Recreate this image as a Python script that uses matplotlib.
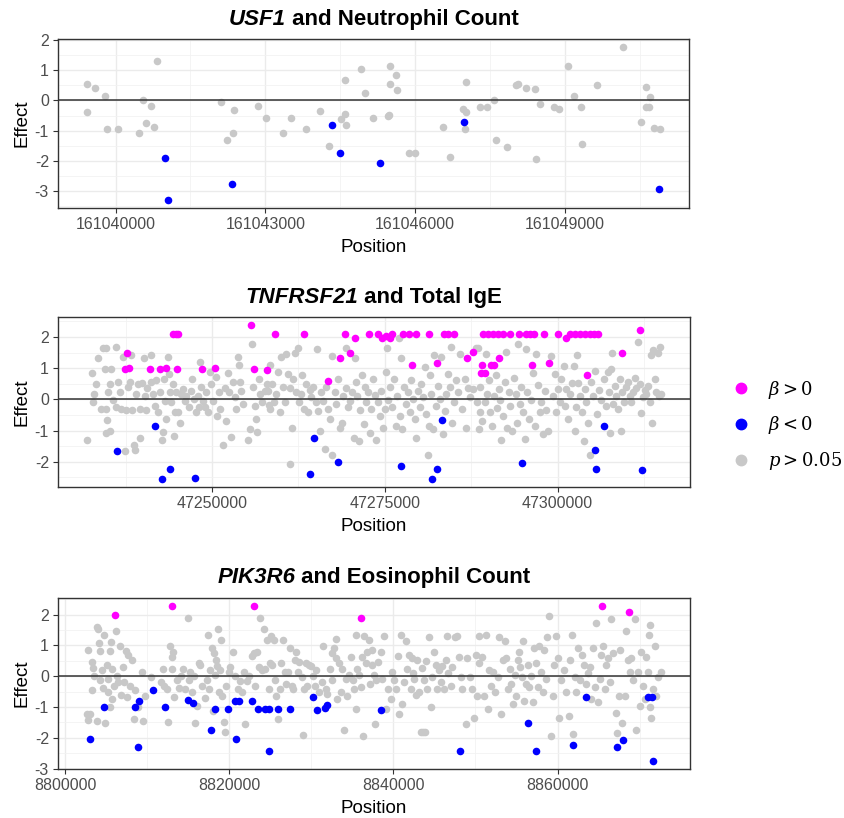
import matplotlib
matplotlib.use("Agg")
import matplotlib.pyplot as plt
from matplotlib.lines import Line2D
from matplotlib.ticker import FixedLocator, FuncFormatter

plt.rcParams['font.family'] = ['Liberation Sans', 'DejaVu Sans']
plt.rcParams['axes.unicode_minus'] = False
plt.rcParams['mathtext.fontset'] = 'dejavuserif'

GRAY = '#C8C8C8'
BLUE = '#0000FF'
MAGENTA = '#FF00FF'

# ---------------- USF1 / Neutrophil count ----------------
usf1_ns_pos = [161039420, 161039420, 161039580, 161039785, 161039830, 161040045, 161040475, 161040555,
               161040610, 161040705, 161040760, 161040830, 161042120, 161042225, 161042350, 161042380,
               161042860, 161043020, 161043350, 161043515, 161043820, 161044095, 161044285, 161044525,
               161044590, 161044590, 161044625, 161044925, 161045000, 161045160, 161045460, 161045475,
               161045490, 161045490, 161045615, 161045640, 161045875, 161045990, 161046570, 161046695,
               161046970, 161047015, 161047000, 161047030, 161047300, 161047435, 161047590, 161047615,
               161047850, 161048030, 161048065, 161048225, 161048395, 161048420, 161048495, 161048780,
               161048885, 161049065, 161049190, 161049335, 161049345, 161049655, 161050175, 161050520,
               161050620, 161050620, 161050680, 161050715, 161050780, 161050915]
usf1_ns_eff = [0.54, -0.40, 0.41, 0.16, -0.96, -0.96, -1.09, 0.02,
               -0.74, -0.19, -0.88, 1.31, -0.06, -1.31, -1.09, -0.31,
               -0.19, -0.58, -1.09, -0.58, -0.96, -0.35, -1.51, -0.60,
               -0.44, 0.67, -0.80, 1.04, 0.24, -0.58, -0.51, -0.48,
               1.13, 0.53, 0.83, 0.33, -1.73, -1.73, -0.88, -1.86,
               -0.28, -0.37, -0.96, 0.62, -0.23, -0.23, 0.00, -1.31,
               -1.56, 0.51, 0.55, 0.42, 0.37, -1.95, -0.11, -0.23,
               -0.28, 1.14, 0.16, -0.23, -1.43, 0.50, 1.78, -0.70,
               0.44, -0.23, -0.23, 0.12, -0.90, -0.95]
usf1_neg_pos = [161040990, 161041045, 161042325, 161044330, 161044490, 161045300, 161046980, 161050890]
usf1_neg_eff = [-1.91, -3.31, -2.76, -0.80, -1.74, -2.07, -0.71, -2.94]

# ---------------- TNFRSF21 / Total IgE ----------------
tnf_pos_pos = [47237740, 47237350, 47237980, 47240970, 47242460, 47243380, 47244340, 47244725, 47245110,
               47244920, 47248530, 47250410, 47255570, 47256000, 47257980, 47259160, 47263260, 47266770,
               47268560, 47269180, 47269910, 47270630, 47272700, 47274000, 47274630, 47275210, 47275690,
               47276080, 47277620, 47278490, 47279550, 47278970, 47281380, 47282540, 47283600, 47284130,
               47284990, 47286920, 47287740, 47289060, 47288970, 47289450, 47290410, 47290750, 47291520,
               47289210, 47289930, 47290650, 47291380, 47292100, 47293060, 47294410, 47295470, 47295960,
               47296530, 47296340, 47298030, 47298750, 47300050, 47301260, 47301740, 47302460, 47303190,
               47303910, 47304630, 47305210, 47305840, 47304300, 47309310, 47311860]
tnf_pos_eff = [1.47, 0.98, 1.00, 0.96, 0.96, 1.00, 2.09, 2.09, 2.09,
               0.96, 0.96, 1.00, 2.39, 0.96, 0.93, 2.09, 2.09, 0.58,
               1.31, 2.09, 1.47, 1.98, 2.09, 2.09, 1.98, 2.04, 1.96,
               2.09, 2.09, 2.09, 2.09, 1.09, 2.09, 1.15, 2.09, 2.09,
               2.09, 1.31, 1.52, 1.11, 0.84, 0.84, 1.11, 1.11, 1.31,
               2.09, 2.09, 2.09, 2.09, 2.09, 2.09, 2.09, 2.09, 2.09,
               2.09, 1.09, 2.09, 1.15, 2.09, 1.96, 2.09, 2.09, 2.09,
               2.09, 2.09, 2.09, 2.09, 0.77, 1.47, 2.23]
tnf_neg_pos = [47236290, 47241690, 47243910, 47242800, 47247470, 47264750, 47264120, 47268220, 47277330,
               47281810, 47282580, 47283310, 47294850, 47305350, 47305600, 47306660, 47312250]
tnf_neg_eff = [-1.64, -0.86, -2.24, -2.56, -2.52, -1.23, -2.40, -2.02, -2.15,
               -2.55, -2.24, -0.66, -2.03, -1.61, -2.24, -0.86, -2.27]
tnf_ns_pos = [
    47231860, 47232580, 47232770, 47232870, 47233160, 47233540, 47233880, 47234220, 47234700, 47234460,
    47234700, 47234800, 47234940, 47234600, 47235180, 47235420, 47235280, 47235660, 47236150, 47236050,
    47236390, 47236630, 47236870, 47237110, 47237450, 47237500, 47237840, 47238170, 47238270, 47238460,
    47238650, 47238800, 47239040, 47239280, 47239520, 47239620, 47239900, 47240100, 47240240, 47240480,
    47240630, 47241110, 47241210, 47241450, 47241690, 47241930, 47242170, 47242410, 47242800, 47242890,
    47242990, 47243140, 47243380, 47243620, 47243760, 47243950, 47244100, 47244340, 47244440, 47244580,
    47244820, 47245060, 47245300, 47245540, 47245780, 47246020, 47246260, 47246650, 47246990, 47247140,
    47247330, 47247620, 47247910, 47248100, 47248290, 47248440, 47248680, 47248920, 47249160, 47249400,
    47249640, 47249880, 47250120, 47250510, 47250700, 47250990, 47251180, 47251570, 47251810, 47252050,
    47252290, 47252440, 47252780, 47253020, 47253260, 47253500, 47253740, 47253880, 47253980, 47254220,
    47254460, 47255190, 47255530, 47255810, 47255910, 47256150, 47256390, 47256540, 47256730, 47256970,
    47257260, 47257600, 47257930, 47258220, 47258420,
    47258100, 47258340, 47258720, 47258920, 47259300, 47259540, 47259790, 47260030, 47260270, 47260510,
    47260750, 47260990, 47261230, 47261330, 47261520, 47261710, 47261950, 47262200, 47262440, 47262580,
    47262820, 47263060, 47263250, 47263550, 47263880, 47264120, 47264360, 47264600, 47264990, 47265230,
    47265330, 47265570, 47265810, 47266050, 47266340, 47266530, 47266820, 47267110, 47267400, 47267300,
    47267740, 47267980, 47268220, 47268460, 47268750, 47268940, 47269330, 47269420, 47269660, 47270000,
    47270290, 47270480, 47270630, 47270770, 47270970, 47271260, 47271450, 47271740, 47271930, 47272070,
    47272320, 47272560, 47272800, 47273040, 47273280, 47273520, 47273760, 47274000, 47274240, 47274480,
    47274720, 47274970, 47275210, 47275310, 47275450, 47275690, 47276080, 47276270, 47276560, 47276750,
    47276990, 47277140, 47277380, 47277520, 47277720, 47278010, 47278340, 47278580, 47278820, 47279060,
    47279300, 47279550, 47279790, 47280030, 47280270, 47280510, 47280750, 47280990, 47281230, 47281380,
    47281570, 47281710, 47281960, 47282050, 47282340, 47282680, 47282920, 47283160, 47283400, 47283640,
    47283880, 47284130, 47284370, 47284610, 47284750, 47284950, 47285240, 47285570, 47285910, 47286200,
    47286540, 47286780, 47287020, 47287360, 47287740, 47288130, 47288320, 47288610,
    47288480, 47288730, 47288820, 47289110, 47289450, 47289690, 47289790, 47290080, 47290270, 47290560,
    47290750, 47291040, 47291230, 47291520, 47291710, 47291860, 47292100, 47292340, 47292580, 47292680,
    47292970, 47293160, 47293450, 47293640, 47293930, 47294120, 47294270, 47294510, 47294750, 47294990,
    47295230, 47295380, 47295570, 47295860, 47296200, 47296440, 47296680, 47296920, 47297160, 47297400,
    47297640, 47297880, 47298120, 47298370, 47298610, 47299090, 47299330, 47299620, 47299810, 47300050,
    47300290, 47300530, 47300870, 47301020, 47301260, 47301550, 47301840, 47302130, 47302320, 47302460,
    47302700, 47302800, 47302950, 47303190, 47303570, 47303760, 47303910, 47304150, 47304390, 47304630,
    47304870, 47305110, 47305350, 47305690, 47305980, 47306320, 47306660, 47306960, 47307280, 47307430,
    47307620, 47307760, 47307910, 47308010, 47308250, 47308490, 47308730, 47308970, 47309210, 47309360,
    47309550, 47309840, 47310170, 47310410, 47310660, 47310900, 47311140, 47311380, 47311620, 47311860,
    47312100, 47312340, 47312580, 47312820, 47313060, 47313310, 47313550, 47313690, 47313790, 47314030,
    47314270, 47314510, 47314660, 47314850, 47315000]
tnf_ns_eff = [
    -1.31, 0.84, -0.10, 0.17, 0.50, 1.31, -0.31, 1.63, 1.65, 0.98,
    -0.32, -0.66, 0.23, -1.09, -1.02, 0.98, 0.50, -0.01, 1.69, -0.23,
    0.57, 0.23, -0.31, 1.36, -1.64, -0.34, 0.39, 0.55, 1.42, -0.34,
    -1.45, -1.63, 0.17, 0.50, -0.31, -1.23, 0.53, 1.33, 0.12, -0.34,
    0.36, 1.42, 0.57, 0.16, -0.21, 0.61, -0.42, 0.25, -1.29, -1.05,
    0.66, -0.04, -0.64, 1.36, 0.82, 0.23, -0.10, 0.50, -1.16, -0.40,
    0.23, -0.42, -0.75, 0.17, 0.34, -0.04, 0.12, -0.23, 0.28, 0.66,
    0.01, -0.42, 0.12, -0.26, 1.20, 0.39, -0.04, -0.26, 0.23, -0.42,
    0.88, 0.50, -0.04, 0.71, -0.53, 0.23, -0.31, -1.45, 0.36, -0.69,
    0.85, 0.25, -1.20, 0.55, 0.06, -0.31, 1.36, 1.09, 0.55, 0.28,
    -0.15, -1.31, -0.96, 1.76, 0.39, -0.21, -0.64, -1.05, 0.66, 0.17,
    -0.08, 0.28, 0.50, -0.18, 1.09,
    0.28, -0.31, 0.50, -0.08, 0.17, 0.88, -0.40, 1.36, 0.39, -0.10,
    1.44, 0.82, -2.06, 0.36, -0.91, 0.66, 1.47, 0.23, 1.63, -0.10,
    0.17, 0.79, -0.31, 0.50, -0.42, 0.31, 0.06, 0.39, -0.10, 1.61,
    -0.37, -1.02, 0.23, -0.04, -1.59, 0.39, -0.31, -0.62, -1.77, 1.39,
    0.23, -0.15, 0.66, -0.91, -0.75, 0.12, 1.65, 0.36, -0.26, -0.04,
    0.23, -1.23, 1.31, 0.57, 0.12, -1.34, -0.34, 0.77, -0.80, 0.39,
    -0.10, 0.23, -1.07, -0.31, 0.66, 0.14, -1.29, -0.08, -0.53, 0.28,
    -0.91, -0.31, 0.88, 1.65, -0.01, 0.39, -0.26, 0.66, -0.85, 0.12,
    1.96, -0.53, 1.31, -0.96, 0.39, -0.15, 0.23, -0.42, 0.61, 0.01,
    -0.64, -1.23, 0.28, -0.26, 0.50, 0.06, 1.04, -0.48, -1.77, -0.85,
    0.77, 0.17, -0.96, 1.42, -0.21, 0.44, 0.01, 1.36, -1.12, -0.37,
    0.17, 0.82, 0.39, 1.69, -0.75, -0.10, 0.61, 0.23, 1.44, -0.31,
    0.66, -0.91, 0.36, 0.06, 0.34, 1.63, -0.10, -0.96,
    1.65, 0.39, -0.42, -0.69, -0.10, 1.44, 0.17, 0.61, -0.42, -0.85,
    0.12, 0.79, -0.29, 0.34, -0.01, -1.31, -0.53, 0.55, 1.52, -0.91,
    0.23, -0.21, -1.02, 0.68, 0.17, -0.77, 1.76, -0.15, 0.39, -0.42,
    -1.26, 1.61, 0.23, -0.64, -0.01, 0.85, -0.85, 1.44, 0.46, -0.42,
    -0.10, -1.12, 0.28, -0.34, -1.02, 1.39, 0.12, 0.82, -0.42, 0.34,
    -0.08, 0.66, 1.07, -0.21, 0.34, -0.62, 0.17, 0.53, 1.07, -1.02,
    -0.23, 1.42, 0.53, 0.12, -0.42, -1.34, 0.34, -0.08, -0.75, -1.77,
    0.55, 0.12, 0.90, -0.48, 0.31, -0.01, 0.66, -0.21, 0.88, 0.25,
    -1.07, 0.98, 1.47, -0.15, 0.42, 0.12, -0.31, 0.66, -1.02, 0.23,
    -0.08, 0.39, 0.55, 0.12, -0.10, 0.23, 0.68, 0.36, 1.85, 0.50,
    -0.44, 0.06, 0.31, 0.17, 0.42, -0.10, 1.42, -0.77, 1.58, 0.66,
    0.23, 1.47, 0.12, 1.69, 0.17]

# ---------------- PIK3R6 / Eosinophil count ----------------
pik_pos_pos = [8806060, 8813090, 8822970, 8836010, 8865450, 8868740]
pik_pos_eff = [1.99, 2.29, 2.29, 1.90, 2.29, 2.08]
pik_neg_pos = [8803090, 8804800, 8808900, 8808540, 8809060, 8810770, 8812190, 8815000, 8815610, 8817800,
               8818290, 8819800, 8820770, 8820730, 8821140, 8822760, 8823450, 8824310, 8824800, 8824800,
               8825970, 8827360, 8830200, 8830650, 8831660, 8831950, 8838450, 8848090, 8856380, 8857320,
               8861870, 8863450, 8867190, 8867960, 8871060, 8871500, 8871580]
pik_neg_eff = [-2.03, -1.01, -2.30, -1.01, -0.80, -0.46, -1.01, -0.76, -0.88, -1.73,
               -1.05, -1.05, -2.03, -0.80, -0.80, -0.80, -1.05, -1.05, -1.05, -2.42,
               -1.05, -1.05, -0.68, -1.10, -1.04, -0.92, -1.10, -2.42, -1.53, -2.42,
               -2.24, -0.68, -2.29, -2.08, -0.68, -0.68, -2.76]
pik_ns_pos = [
    8802640, 8802760, 8803010, 8802760, 8803250, 8803450, 8803330, 8803580, 8803860, 8804070,
    8804150, 8803860, 8804270, 8804270, 8804470, 8804670, 8804800, 8804880, 8805080, 8805200,
    8805280, 8805490, 8805490, 8805610, 8805690, 8805770, 8806020, 8806220, 8806300, 8806500,
    8806710, 8806830, 8807030, 8807230, 8807400, 8807520, 8807720, 8807930, 8808130, 8808370,
    8808540, 8808860, 8809430, 8809550, 8809760, 8810490, 8811710, 8811990, 8812110, 8812400,
    8812600, 8812800, 8813010, 8813090, 8813210, 8813330, 8813620, 8813900, 8814150, 8814430,
    8814640, 8814960, 8815040, 8815240, 8815450, 8815650, 8815850, 8816060, 8816260, 8816460,
    8816670, 8816990, 8817280, 8817400, 8817560, 8817680, 8817890, 8817970, 8818090, 8818210,
    8818370, 8818500, 8818620, 8818700, 8818900, 8819020, 8819100, 8819310, 8819430, 8819590,
    8819920, 8820120, 8820410, 8820730, 8821060, 8821340, 8821540, 8821750, 8821950, 8822150,
    8822360, 8822760, 8822970, 8823170, 8823370, 8823580, 8823780, 8823980, 8824190, 8824390,
    8824590, 8824800, 8825000,
    8825040, 8825240, 8825450, 8825570, 8825650, 8825970, 8826140, 8826340, 8826540, 8826790,
    8826950, 8827190, 8827360, 8827600, 8827760, 8828010, 8828170, 8828410, 8828500, 8828820,
    8828980, 8829110, 8829310, 8829510, 8829720, 8829920, 8830200, 8830450, 8830610, 8830930,
    8831260, 8831420, 8831750, 8831950, 8832230, 8832480, 8832560, 8832760, 8832970, 8833050,
    8833170, 8833370, 8833580, 8833780, 8833980, 8834190, 8834390, 8834590, 8834840, 8835080,
    8835200, 8835410, 8835490, 8835610, 8835810, 8836010, 8836220, 8836300, 8836460, 8836620,
    8836830, 8837030, 8837110, 8837360, 8837440, 8837640, 8837760, 8837930, 8838170, 8838450,
    8838660, 8838860, 8839140, 8839390, 8839670, 8839800, 8840080, 8840280, 8840610, 8840690,
    8840890, 8841100, 8841300, 8841500, 8841710, 8841910, 8842110, 8842240, 8842400, 8842520,
    8842720, 8842930, 8843130, 8843330, 8843620, 8843860, 8843530, 8843740, 8843940, 8844140,
    8844350, 8844550, 8844760, 8844960, 8845160, 8845360, 8845570, 8845770, 8845970, 8846180,
    8846380, 8846580, 8846710, 8847000, 8847200, 8847520, 8847800, 8848010, 8848210, 8848410,
    8848820, 8849020, 8849310, 8849550, 8849840, 8850040, 8850240, 8850450,
    8850490, 8850810, 8851100, 8851300, 8851500, 8851710, 8851910, 8852190, 8852440, 8852720,
    8852930, 8853130, 8853330, 8853540, 8853740, 8853940, 8854150, 8854350, 8854550, 8854760,
    8854960, 8855160, 8855280, 8855440, 8855690, 8855770, 8855970, 8856180, 8856380, 8856580,
    8856790, 8856990, 8857190, 8857400, 8857600, 8857800, 8858010, 8858210, 8858410, 8858620,
    8858740, 8859020, 8859230, 8859430, 8859630, 8859830, 8860040, 8860240, 8860450, 8860730,
    8861060, 8861380, 8861540, 8861790, 8861870, 8862070, 8862280, 8862480, 8862680, 8863010,
    8863170, 8863410, 8863700, 8863900, 8864100, 8864310, 8864510, 8864710, 8864920, 8865120,
    8865330, 8865530, 8865730, 8865930, 8866140, 8866340, 8866540, 8866750, 8867070, 8867230,
    8867480, 8867640, 8867880, 8868170, 8868290, 8868580, 8868780, 8868980, 8869190, 8869390,
    8869510, 8869800, 8870000, 8870200, 8870410, 8870610, 8870810, 8871020, 8871140, 8871220,
    8871300, 8871420, 8871620, 8871830, 8872030, 8872230, 8872640]
pik_ns_eff = [
    -1.23, -1.42, -1.23, 0.86, 0.47, 0.27, -0.46, 0.01, 1.59, 1.52,
    1.08, -1.45, 0.82, -0.13, 0.20, -0.38, 1.33, -1.51, 0.36, -0.52,
    -0.08, 0.82, -1.01, 1.11, 0.25, -0.74, -0.30, 1.48, 0.01, -0.19,
    0.97, -0.60, 0.31, -0.19, 0.82, -0.68, 0.69, -0.32, 0.53, -1.40,
    -0.46, -1.01, 0.14, -1.45, -0.63, -0.02, -0.19, 0.25, -0.30, -0.41,
    -1.48, 0.97, 0.64, 0.25, 0.80, -0.68, -0.13, -0.38, 0.01, 0.25,
    -0.41, 1.90, -0.13, 0.14, -0.52, 0.01, -1.51, -0.96, 0.42, 0.36,
    -0.30, -0.71, -0.13, 1.35, -0.41, 0.20, 0.93, -1.12, 0.75, 0.03,
    0.53, 0.34, 1.52, -0.52, 0.20, 1.19, -0.65, -1.48, -1.81, -0.30,
    0.14, 0.31, 0.78, 0.01, -0.41, -0.16, -0.52, 0.14, -1.56, -0.16,
    0.01, 0.67, 0.75, -0.30, 0.80, 0.31, 1.88, 0.20, 1.52, 0.25,
    1.19, -0.41, 0.42,
    1.30, 0.36, 1.19, -0.13, -0.63, -1.40, -0.41, 0.42, 1.19, 0.14,
    -0.24, 0.14, 0.91, -0.30, -0.41, 0.53, 0.80, 0.14, 0.47, -0.02,
    -1.91, -0.41, 0.42, -0.30, 0.36, 0.34, 0.01, -0.30, 0.20, -0.52,
    -0.19, 0.97, -0.41, -0.57, 0.25, -0.13, 0.75, 0.91, 1.22, 0.58,
    -0.74, 0.42, -0.52, 0.23, -1.73, -0.08, -0.63, 0.03, 0.64, -0.13,
    -0.41, 1.35, -1.07, 0.25, 0.03, -0.35, 0.64, -1.95, 1.30, 0.42,
    0.80, 1.19, -0.24, 0.86, 0.38, 0.03, -1.56, -0.13, 0.45, 0.80,
    -0.08, 1.30, -1.07, -0.41, -0.74, 0.14, -0.13, -0.41, 0.67, -1.23,
    1.35, -0.90, -0.19, 1.13, 0.25, 0.69, -0.41, 0.58, 0.09, -0.08,
    -0.60, 0.53, -0.52, -1.81, -1.81, -1.81, 0.27, -0.13, 0.49, -0.41,
    1.26, -1.01, -0.02, 0.80, 0.36, -0.41, 0.20, -0.19, 0.34, -0.41,
    0.53, 1.30, 0.09, -0.30, 0.31, 1.26, 1.30, 0.64, -0.02, -0.41,
    -1.56, 0.58, -0.02, -0.41, -1.34, 0.69, -0.63, 0.42,
    1.30, 0.64, -0.63, 1.35, -1.07, 0.20, -0.30, 0.14, -0.52, -0.02,
    1.26, -1.23, 0.53, 1.13, 0.58, -0.41, 0.25, -0.24, -0.90, 0.03,
    -0.63, 0.53, 0.80, 0.31, -0.02, 1.13, -0.79, -0.24, 0.36, -0.35,
    0.01, -0.85, 0.91, 0.42, -0.35, 0.97, 0.14, -0.52, 0.86, -0.08,
    1.26, 1.96, -1.95, -0.63, 0.36, 1.30, 0.58, -1.34, -0.13, 0.20,
    -0.52, -1.29, 0.53, 1.35, -1.89, -0.02, -0.52, 0.91, -0.13, 0.69,
    0.36, -0.24, 0.09, 0.31, -0.74, 0.93, -0.35, 1.74, -0.85, -0.08,
    0.69, 0.97, -0.41, 0.36, 0.58, -0.19, 1.87, 0.75, -1.20, -1.84,
    -0.63, 0.86, -1.51, -0.63, 1.48, 0.53, 0.14, 0.58, -0.13, 1.87,
    -1.73, 0.14, -0.96, 0.80, -0.30, -0.74, 0.64, 0.14, 1.35, 1.66,
    -1.01, -1.34, -0.41, 0.97, -0.63, -0.02, 0.14]

panels = [
    dict(title=('USF1', 'and Neutrophil Count'), ns=(usf1_ns_pos, usf1_ns_eff),
         neg=(usf1_neg_pos, usf1_neg_eff), pos=([], []),
         xticks=[161040000, 161043000, 161046000, 161049000], xstep=3000, yticks=[-3, -2, -1, 0, 1, 2]),
    dict(title=('TNFRSF21', 'and Total IgE'), ns=(tnf_ns_pos, tnf_ns_eff),
         neg=(tnf_neg_pos, tnf_neg_eff), pos=(tnf_pos_pos, tnf_pos_eff),
         xticks=[47250000, 47275000, 47300000], xstep=25000, yticks=[-2, -1, 0, 1, 2]),
    dict(title=('PIK3R6', 'and Eosinophil Count'), ns=(pik_ns_pos, pik_ns_eff),
         neg=(pik_neg_pos, pik_neg_eff), pos=(pik_pos_pos, pik_pos_eff),
         xticks=[8800000, 8820000, 8840000, 8860000], xstep=20000, yticks=[-3, -2, -1, 0, 1, 2]),
]

W, H = 844, 818
fig = plt.figure(figsize=(W / 100, H / 100), dpi=100)
boxes = [(58, 39, 689, 208), (58, 317, 690, 487), (58, 598, 690, 769)]


def gene_title(ax, gene, rest, size=16):
    r = fig.canvas.get_renderer()
    t1 = ax.text(0, 1.085, gene, transform=ax.transAxes, fontsize=size,
                 fontweight='bold', style='italic', va='baseline', ha='left')
    t2 = ax.text(0, 1.085, ' ' + rest, transform=ax.transAxes, fontsize=size,
                 fontweight='bold', va='baseline', ha='left')
    w1 = t1.get_window_extent(r).width
    w2 = t2.get_window_extent(r).width
    aw = ax.get_window_extent(r).width
    x0 = 0.5 - (w1 + w2) / 2 / aw
    t1.set_x(x0)
    t2.set_x(x0 + w1 / aw)


for p, (l, t, rgt, b) in zip(panels, boxes):
    ax = fig.add_axes([l / W, 1 - b / H, (rgt - l) / W, (b - t) / H])
    ax.set_facecolor('white')
    ax.scatter(*p['ns'], s=30, color=GRAY, linewidths=0, zorder=3)
    if p['pos'][0]:
        ax.scatter(*p['pos'], s=30, color=MAGENTA, linewidths=0, zorder=4)
    ax.scatter(*p['neg'], s=30, color=BLUE, linewidths=0, zorder=4)
    ax.axhline(0, color='#333333', lw=1.1, zorder=5)
    ax.margins(x=0.05, y=0.05)

    ax.xaxis.set_major_locator(FixedLocator(p['xticks']))
    xt = p['xticks']
    minors = [x - p['xstep'] / 2 for x in xt] + [xt[-1] + p['xstep'] / 2]
    ax.xaxis.set_minor_locator(FixedLocator(minors))
    ax.yaxis.set_major_locator(FixedLocator(p['yticks']))
    ax.yaxis.set_minor_locator(FixedLocator([y + 0.5 for y in range(-4, 3)]))
    ax.xaxis.set_major_formatter(FuncFormatter(lambda v, _: '%d' % v))
    ax.yaxis.set_major_formatter(FuncFormatter(lambda v, _: '%d' % v))
    ax.grid(which='major', color='#EBEBEB', lw=1.0, zorder=0)
    ax.grid(which='minor', color='#F2F2F2', lw=0.6, zorder=0)
    ax.set_axisbelow(True)
    ax.tick_params(which='major', length=3.5, width=0.8, color='#333333',
                   labelsize=11.5, labelcolor='#4D4D4D', pad=3)
    ax.tick_params(which='minor', length=0)
    for s in ax.spines.values():
        s.set_color('#333333')
        s.set_linewidth(1.0)
    ax.set_xlabel('Position', fontsize=13.5, labelpad=5)
    ax.set_ylabel('Effect', fontsize=13.5, labelpad=3)
    gene_title(ax, *p['title'])

handles = [Line2D([], [], marker='o', ls='', color=c, markersize=7.5)
           for c in (MAGENTA, BLUE, GRAY)]
labels = [r'$\beta > 0$', r'$\beta < 0$', r'$p > 0.05$']
fig.legend(handles, labels, loc='center left', bbox_to_anchor=(0.846, 0.48),
           frameon=False, fontsize=13, handletextpad=0.9, labelspacing=0.75,
           handlelength=1.2)

fig.savefig('out.png', dpi=100, facecolor='white')
